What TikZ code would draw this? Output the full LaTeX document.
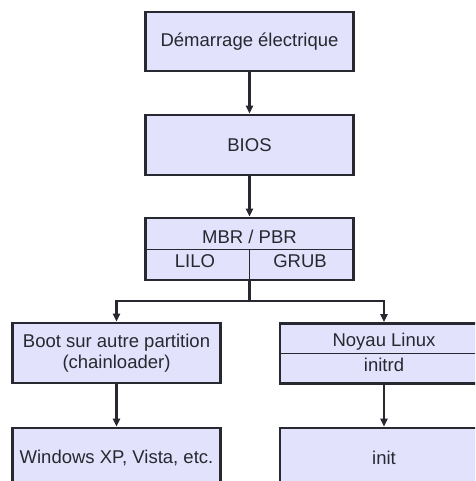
\documentclass[tikz,border=0pt]{standalone}
\usepackage{fontspec}
\setmainfont{Liberation Sans}
\usetikzlibrary{arrows.meta}
\definecolor{boxfill}{RGB}{226,226,252}
\definecolor{inkc}{RGB}{40,40,48}
\tikzset{
  box/.style={draw=inkc, line width=2.6pt, fill=boxfill, rectangle, inner sep=0pt,
    minimum width=208pt, minimum height=60pt, text=inkc,
    font=\fontsize{18.5}{21}\selectfont, align=center},
  lbl/.style={inner sep=0pt, text=inkc, font=\fontsize{18.5}{21}\selectfont, align=center},
  divider/.style={draw=inkc, line width=1pt},
  conn/.style={draw=inkc, line width=2.4pt, -{Triangle[length=8pt,width=7pt]}},
  plain/.style={draw=inkc, line width=2.4pt}
}
\begin{document}
\begin{tikzpicture}[x=1pt,y=-1pt]
\useasboundingbox (0,0) rectangle (475,481);
\clip (0,0) rectangle (475,481);
\fill[white] (0,0) rectangle (475,481);

\node[box, minimum height=59pt] (demarrage) at (249.5,41.5) {Démarrage électrique};
\node[box] (bios) at (249.5,145) {BIOS};
\node[box, minimum height=62pt] (mbr) at (249.5,249) {};
\node[box] (chain) at (116.5,353) {Boot sur autre partition\\(chainloader)};
\node[box] (noyau) at (384,353.5) {};
\node[box] (windows) at (116.5,458) {Windows XP, Vista, etc.};
\node[box] (init) at (384,458) {init};

% MBR box inner structure
\draw[divider] (mbr.west) -- (mbr.east);
\coordinate (mbrmid) at (mbr.center);
\draw[divider] (mbrmid) -- (mbr.south);
\node[lbl] (mbrlbl) at (249.5,237) {MBR / PBR};
\node[lbl] (lilo) at (195,261) {LILO};
\node[lbl] (grub) at (300,261) {GRUB};

% Noyau box inner structure
\draw[divider] (noyau.west) -- (noyau.east);
\node[lbl] (noyaulbl) at (384,342) {Noyau Linux};
\node[lbl] (initrd) at (384,365) {initrd};

% connectors
\draw[conn] (demarrage) -- (bios);
\draw[conn] (bios) -- (mbr);
\coordinate (split) at (249.5,301);
\draw[plain] (mbr.south) -- (split);
\draw[conn] (split) -| (chain.north);
\draw[conn] (split) -| (noyau.north);
\draw[conn] (chain) -- (windows);
\draw[conn] (noyau) -- (init);
\end{tikzpicture}
\end{document}
